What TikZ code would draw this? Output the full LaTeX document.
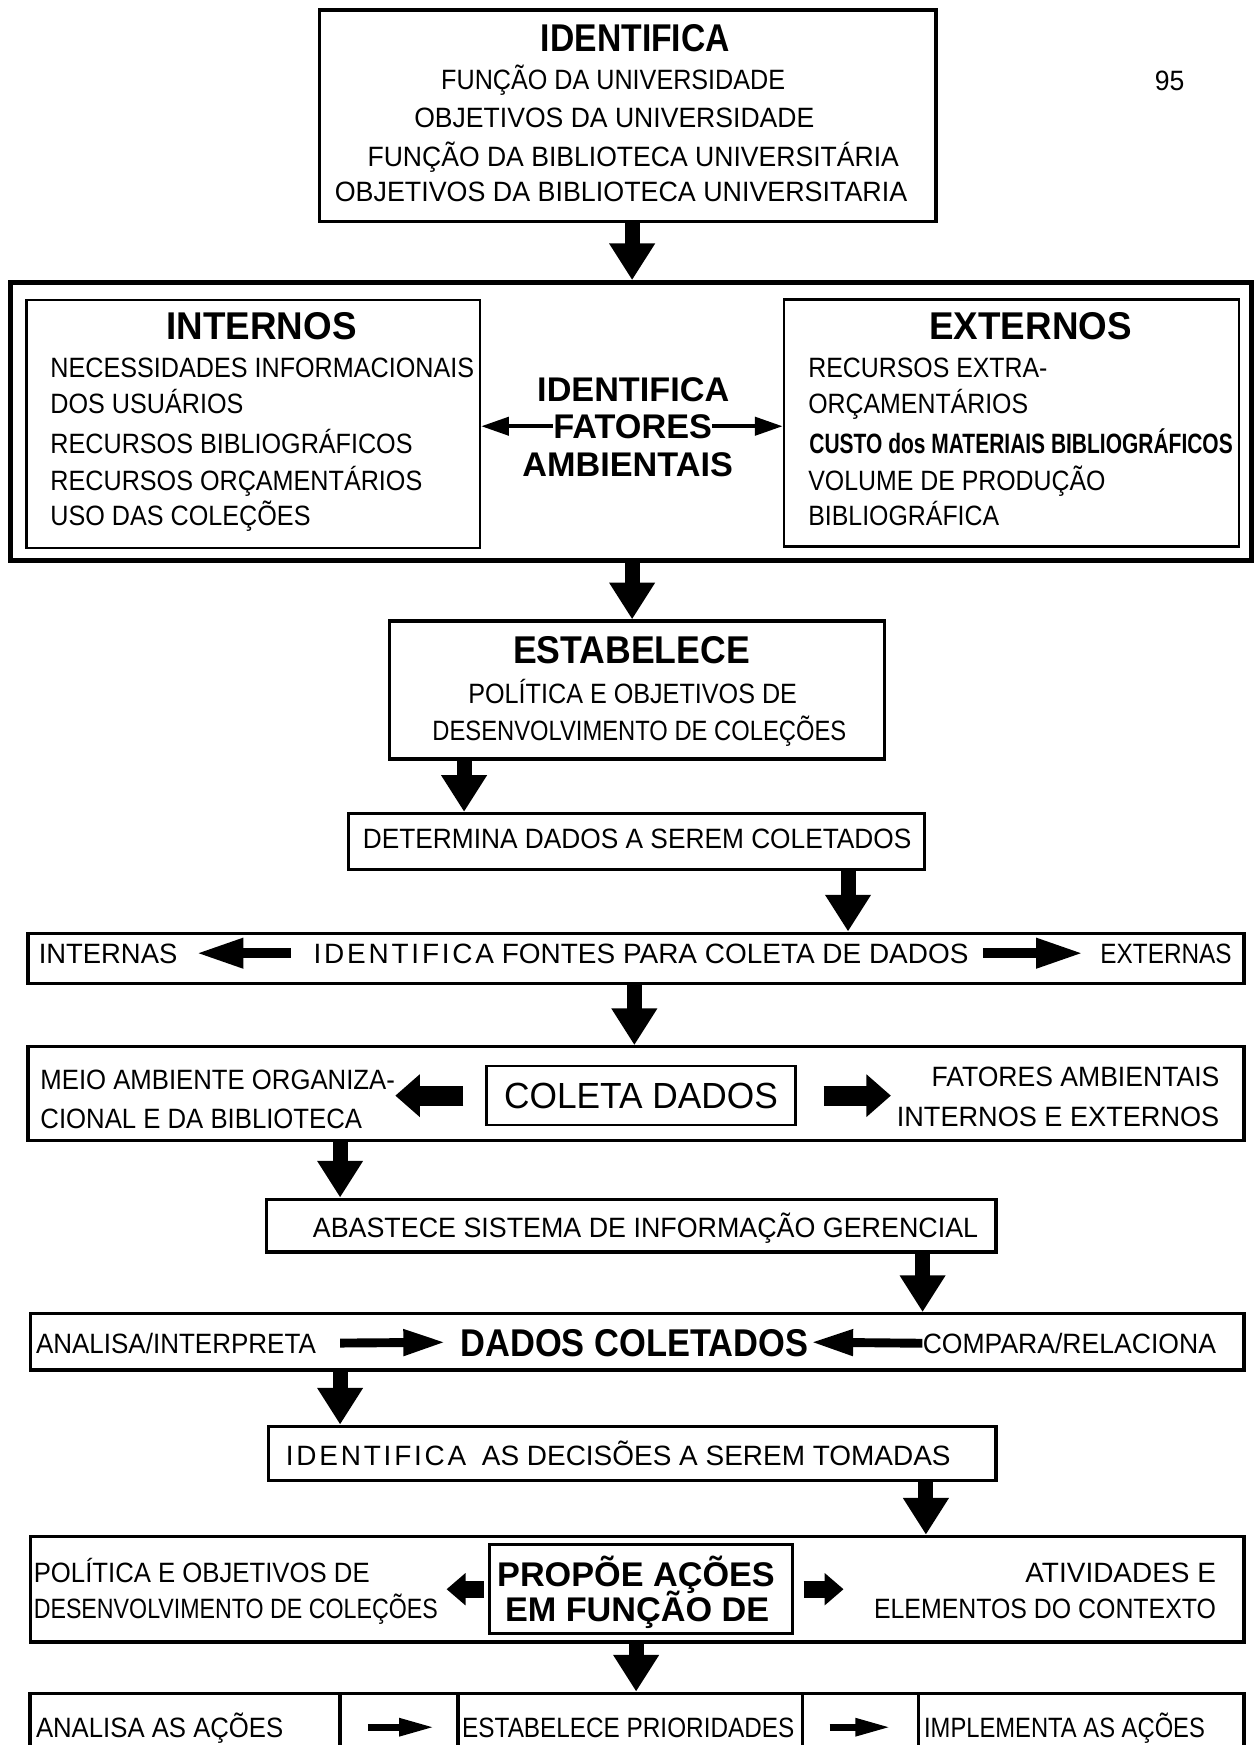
\documentclass[tikz,border=0pt]{standalone}
\usepackage{fontspec}
\setmainfont{Liberation Sans}
\usetikzlibrary{arrows.meta}

\tikzset{
  box/.style={draw, line width=1.7pt, inner sep=0pt},
  frame/.style={draw, line width=2.6pt, inner sep=0pt},
  inbox/.style={draw, line width=1.3pt, inner sep=0pt},
  txt/.style={inner sep=0pt, text height=10.24pt, text depth=0pt,
    font=\fontsize{14.3}{17}\selectfont\addfontfeature{FakeStretch=#1}},
  txt/.default=0.9,
  ttl/.style={inner sep=0pt, text height=14.2pt, text depth=0pt,
    font=\bfseries\fontsize{19.8}{22}\selectfont\addfontfeature{FakeStretch=#1}},
  ttl/.default=0.92,
  mid/.style={inner sep=0pt, text height=12.5pt, text depth=0pt,
    font=\bfseries\fontsize{17.5}{20}\selectfont},
  down/.style={line width=0.27cm, -{Triangle[length=0.66cm, width=0.78cm]}},
  side/.style={line width=0.18cm, -{Triangle[length=0.85cm, width=0.5cm]}},
  twin/.style={line width=0.08cm, -{Triangle[length=0.5cm, width=0.32cm]}},
  fat/.style={line width=0.36cm, -{Triangle[length=0.44cm, width=0.74cm]}},
  slim/.style={line width=0.16cm, -{Triangle[length=0.76cm, width=0.44cm]}},
  stub/.style={line width=0.3cm, -{Triangle[length=0.34cm, width=0.56cm]}},
  small/.style={line width=0.12cm, -{Triangle[length=0.64cm, width=0.3cm]}}
}

\begin{document}
\begin{tikzpicture}[x=0.02cm, y=-0.02cm]
  \useasboundingbox (0,0) rectangle (1127,1568);
  \clip (0,0) rectangle (1127,1568);
  \fill[white] (0,0) rectangle (1127,1568);

  % Identifica
  \node[box, minimum width=11.08cm, minimum height=3.8cm] (ident) at (564,104) {};
  \node[ttl=0.87] (identT) at (571,33.5) {IDENTIFICA};
  \node[txt=0.9] (ident1) at (551,71) {FUNÇÃO DA UNIVERSIDADE};
  \node[txt=0.95] (ident2) at (552,106) {OBJETIVOS DA UNIVERSIDADE};
  \node[txt=0.95] (ident3) at (569,141) {FUNÇÃO DA BIBLIOTECA UNIVERSITÁRIA};
  \node[txt=0.96] (ident4) at (558,172) {OBJETIVOS DA BIBLIOTECA UNIVERSITARIA};
  \node[txt=0.95] (page) at (1051,72) {95};

  % Fatores ambientais
  \node[frame, minimum width=22.32cm, minimum height=5cm] (amb) at (567,379) {};
  \node[inbox, minimum width=8.15cm, minimum height=4.46cm] (intern) at (227.4,381) {};
  \node[inbox, minimum width=8.18cm, minimum height=4.44cm] (extern) at (909,380) {};
  \node[ttl=0.95] (internT) at (235,293) {INTERNOS};
  \foreach \y/\t [count=\i] in {330/NECESSIDADES INFORMACIONAIS, 363/DOS USUÁRIOS,
      398.5/RECURSOS BIBLIOGRÁFICOS, 432/RECURSOS ORÇAMENTÁRIOS, 463/USO DAS COLEÇÕES}
    \node[txt=0.9, anchor=west] (intern\i) at (45,\y) {\t};
  \node[ttl=0.95] (externT) at (926,293) {EXTERNOS};
  \foreach \i/\y/\t in {1/330/RECURSOS EXTRA-, 2/363/ORÇAMENTÁRIOS,
      4/432/VOLUME DE PRODUÇÃO, 5/463/BIBLIOGRÁFICA}
    \node[txt=0.89, anchor=west] (extern\i) at (726,\y) {\t};
  \node[txt, anchor=west, font=\bfseries\fontsize{14.3}{17}\selectfont\addfontfeature{FakeStretch=0.75}]
    (extern3) at (727,398.5) {CUSTO dos MATERIAIS BIBLIOGRÁFICOS};
  \node[mid] (ambT1) at (569,350) {IDENTIFICA};
  \node[mid] (ambT2) at (568.5,383) {FATORES};
  \node[mid] (ambT3) at (564,417) {AMBIENTAIS};
  \draw[twin] (ambT2.west) -- (ambT2.west -| intern.east);
  \draw[twin] (ambT2.east) -- (ambT2.east -| extern.west);

  % Estabelece
  \node[box, minimum width=8.9cm, minimum height=2.48cm] (estab) at (572.5,620) {};
  \node[ttl=0.92] (estabT) at (567.5,583.5) {ESTABELECE};
  \node[txt=0.9] (estab1) at (568.5,623) {POLÍTICA E OBJETIVOS DE};
  \node[txt=0.85] (estab2) at (574.5,656) {DESENVOLVIMENTO DE COLEÇÕES};

  % Determina
  \node[box, minimum width=10.36cm, minimum height=1cm] (determ) at (572,756) {};
  \node[txt=0.94] (determT) at (572.5,753) {DETERMINA DADOS A SEREM COLETADOS};

  % Fontes
  \node[box, minimum width=21.86cm, minimum height=0.9cm] (fontes) at (571.5,861) {};
  \node[txt=0.98, anchor=west] (fontesL) at (34.5,856.5) {INTERNAS};
  \node[txt=0.87, anchor=east] (fontesR) at (1107,856.5) {EXTERNAS};
  \node[txt=1] (fontesT) at (576,856.5)
    {{\addfontfeature{LetterSpace=10}IDENTIFICA} FONTES PARA COLETA DE DADOS};
  \draw[side, shorten <=0.4cm, shorten >=0.33cm] (fontesT.west) -- (fontesL.east);
  \draw[side, shorten <=0.25cm, shorten >=0.3cm] (fontesT.east) -- (fontesR.west);

  % Coleta dados
  \node[box, minimum width=21.86cm, minimum height=1.68cm] (coletaRow) at (571.5,982.6) {};
  \node[inbox, minimum width=5.56cm, minimum height=1.06cm, text height=13.3pt, text depth=0pt,
    font=\fontsize{18.6}{21}\selectfont\addfontfeature{FakeStretch=0.97}] (coleta) at (576,984.5) {COLETA DADOS};
  \node[txt=0.92, anchor=west] (meio1) at (36,970) {MEIO AMBIENTE ORGANIZA-};
  \node[txt=0.92, anchor=west] (meio2) at (36,1005) {CIONAL E DA BIBLIOTECA};
  \node[txt=0.95, anchor=east] (fat1) at (1096,967.5) {FATORES AMBIENTAIS};
  \node[txt=0.97, anchor=east] (fat2) at (1096,1003) {INTERNOS E EXTERNOS};
  \draw[fat, shorten <=0.39cm] (coleta.west) -- (coleta.west -| meio1.east);
  \draw[fat, shorten <=0.48cm, shorten >=0.1cm] (coleta.east) -- (coleta.east -| fat2.west);

  % Abastece
  \node[box, minimum width=13.11cm, minimum height=0.95cm] (abast) at (567.2,1101.3) {};
  \node[txt=0.96] (abastT) at (580,1103) {ABASTECE SISTEMA DE INFORMAÇÃO GERENCIAL};

  % Dados coletados
  \node[box, minimum width=21.81cm, minimum height=1.01cm] (dados) at (572.6,1205.7) {};
  \node[txt=0.93, anchor=west] (dadosL) at (32,1207) {ANALISA/INTERPRETA};
  \node[ttl=0.89] (dadosT) at (570,1206) {DADOS COLETADOS};
  \node[txt=0.95, anchor=east] (dadosR) at (1093,1207) {COMPARA/RELACIONA};
  \draw[slim, shorten <=0.43cm, shorten >=0.26cm] (dadosL.east) -- (dadosT.west);
  \draw[slim, shorten >=0.04cm] (dadosR.west) -- (dadosT.east);

  % Decisoes
  \node[box, minimum width=13.08cm, minimum height=0.97cm] (decis) at (568,1305.8) {};
  \node[txt=1] (decisT) at (555.5,1308)
    {{\addfontfeature{LetterSpace=10}IDENTIFICA}\ \ AS DECISÕES A SEREM TOMADAS};

  % Propoe acoes
  \node[box, minimum width=21.81cm, minimum height=1.9cm] (acoes) at (572.6,1428) {};
  \node[inbox, minimum width=5.44cm, minimum height=1.6cm] (propoe) at (576,1428) {};
  \node[mid] (propoe1) at (571.5,1415) {PROPÕE AÇÕES};
  \node[mid] (propoe2) at (572.5,1446) {EM FUNÇÃO DE};
  \node[txt=0.92, anchor=west] (pol1) at (30,1413) {POLÍTICA E OBJETIVOS DE};
  \node[txt=0.83, anchor=west] (pol2) at (30,1445) {DESENVOLVIMENTO DE COLEÇÕES};
  \node[txt=1, anchor=east] (ativ1) at (1093,1413) {ATIVIDADES E};
  \node[txt=0.89, anchor=east] (ativ2) at (1093,1445) {ELEMENTOS DO CONTEXTO};
  \draw[stub, shorten <=0.08cm, shorten >=0.15cm] (propoe.west) -- (propoe.west -| pol2.east);
  \draw[stub, shorten <=0.18cm, shorten >=0.54cm] (propoe.east) -- (propoe.east -| ativ2.west);

  % Acoes
  \node[box, minimum width=21.82cm, minimum height=1.22cm] (passos) at (572.5,1552) {};
  \node[box, minimum width=5.572cm, minimum height=1.22cm] (passo1) at (166.3,1552) {};
  \node[box, minimum width=6.19cm, minimum height=1.22cm] (passo2) at (566.25,1552) {};
  \node[box, minimum width=5.86cm, minimum height=1.22cm] (passo3) at (971.5,1552) {};
  \node[txt=0.92, anchor=west] (passo1T) at (32,1552) {ANALISA AS AÇÕES};
  \node[txt=0.87, anchor=west] (passo2T) at (415,1552) {ESTABELECE PRIORIDADES};
  \node[txt=0.85, anchor=west] (passo3T) at (830,1552) {IMPLEMENTA AS AÇÕES};
  \draw[small, shorten <=0.47cm, shorten >=0.39cm] (passo1.east) -- (passo2.west);
  \draw[small, shorten <=0.46cm, shorten >=0.46cm] (passo2.east) -- (passo3.west);

  % Fluxo principal
  \draw[down] (568,0 |- ident.south) -- (568,0 |- amb.north);
  \draw[down] (568,0 |- amb.south) -- (568,0 |- estab.north);
  \draw[down] (417,0 |- estab.south) -- (417,0 |- determ.north);
  \draw[down] (762,0 |- determ.south) -- (762,0 |- fontes.north);
  \draw[down] (570,0 |- fontes.south) -- (570,0 |- coletaRow.north);
  \draw[down] (305.6,0 |- coletaRow.south) -- (305.6,0 |- abast.north);
  \draw[down] (829,0 |- abast.south) -- (829,0 |- dados.north);
  \draw[down] (305.6,0 |- dados.south) -- (305.6,0 |- decis.north);
  \draw[down] (832,0 |- decis.south) -- (832,0 |- acoes.north);
  \draw[down] (571.6,0 |- acoes.south) -- (571.6,0 |- passos.north);
\end{tikzpicture}
\end{document}
